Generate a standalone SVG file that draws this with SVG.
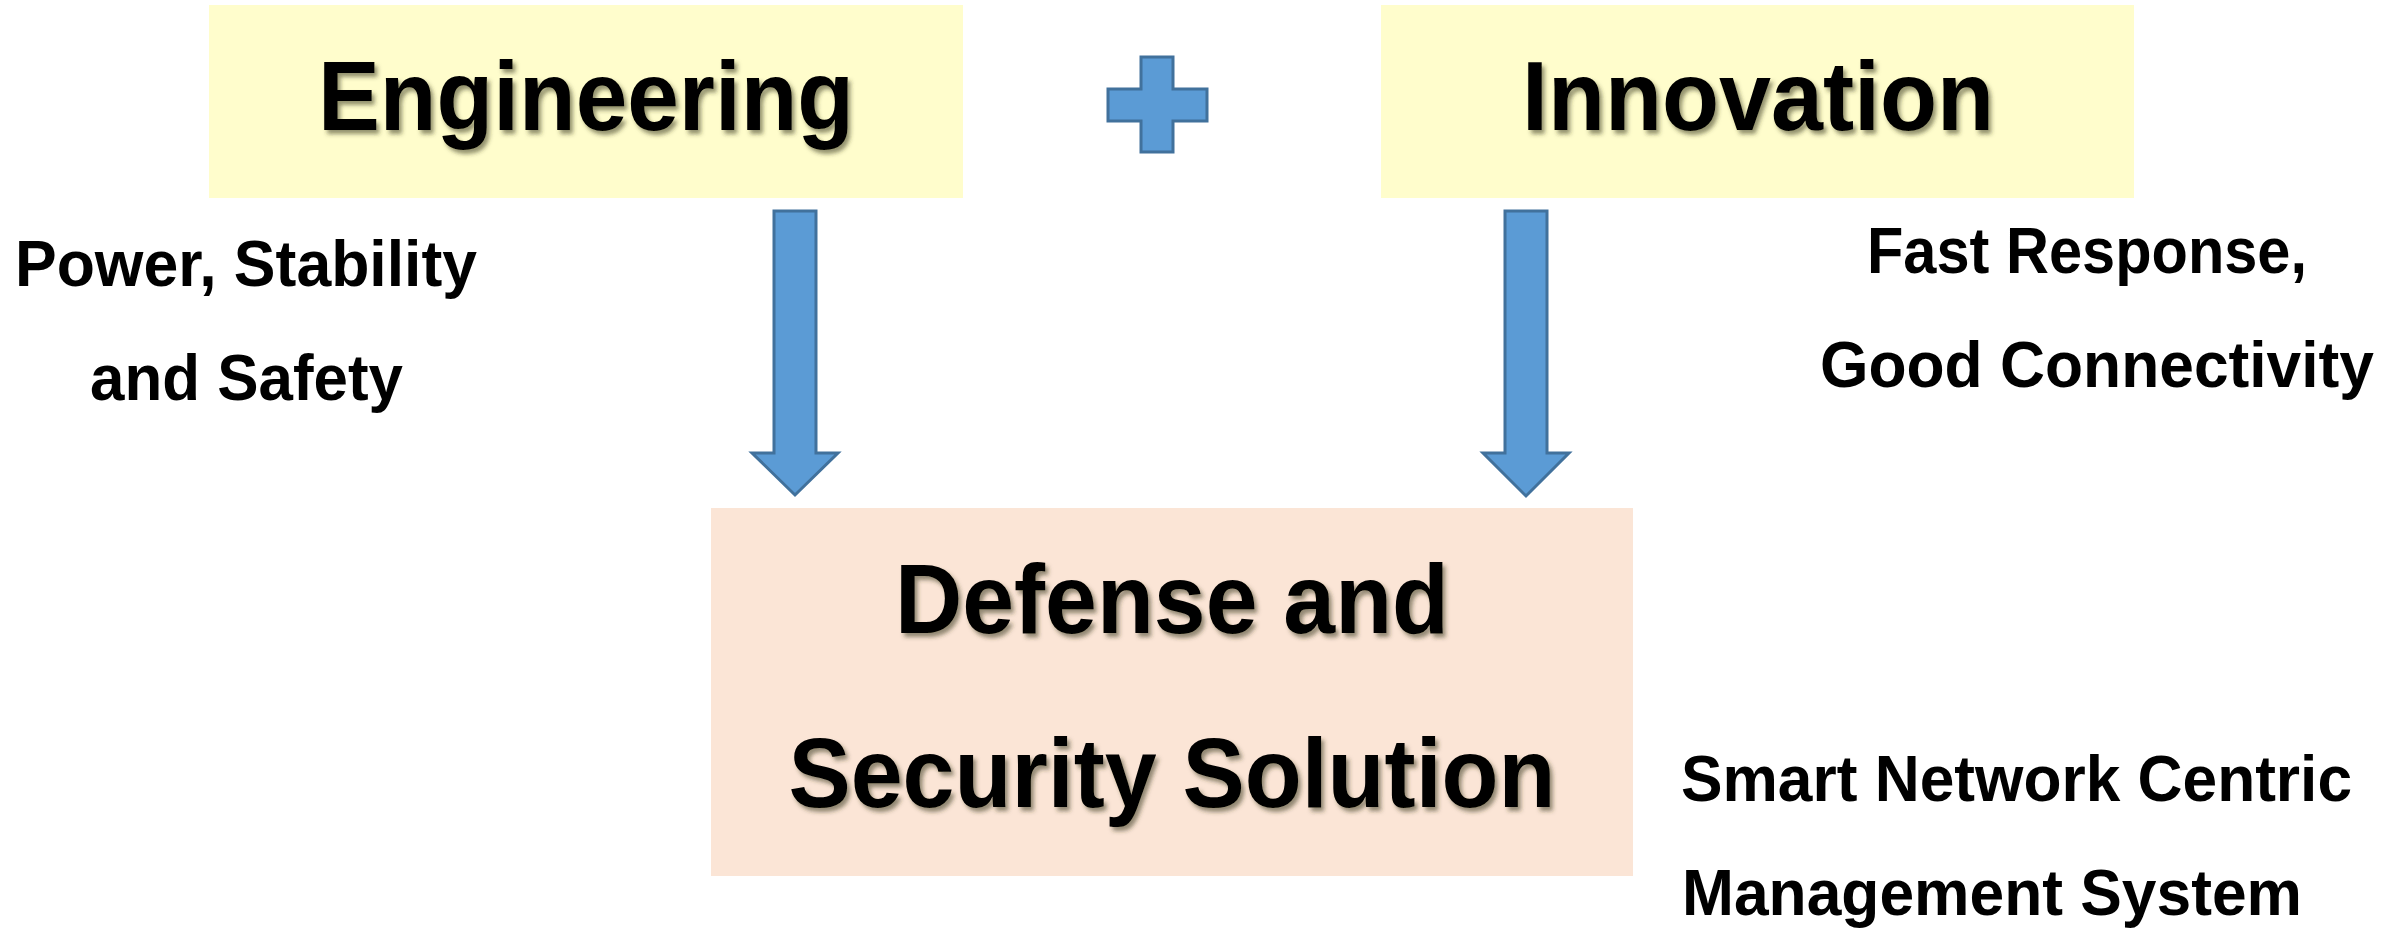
<svg xmlns="http://www.w3.org/2000/svg" width="2392" height="928" viewBox="0 0 2392 928">
  <style>
    .title { font-family: "Liberation Sans", Arial, sans-serif; font-weight: bold; font-size: 98px; fill: #000; }
    .side { font-family: "Liberation Sans", Arial, sans-serif; font-weight: bold; font-size: 64px; fill: #000; }
    .yellow { fill: #FFFDCC; }
    .peach { fill: #FBE5D6; }
    .blue { fill: #5B9BD5; stroke: #41719C; stroke-width: 3; stroke-linejoin: miter; }
  </style>
  <defs>
    <filter id="shadow" x="-10%" y="-20%" width="120%" height="150%">
      <feDropShadow dx="3" dy="4" stdDeviation="2" flood-color="#3a3a20" flood-opacity="0.55"/>
    </filter>
  </defs>
  <rect width="2392" height="928" fill="#FFFFFF"/>

  <g id="engineering">
    <rect class="yellow" x="209" y="5" width="754" height="193"/>
    <text class="title" x="586" y="130" text-anchor="middle" textLength="536" lengthAdjust="spacingAndGlyphs" filter="url(#shadow)">Engineering</text>
  </g>

  <g id="plus">
    <path class="blue" d="M1141,57 H1173 V89 H1207 V121 H1173 V152 H1141 V121 H1108 V89 H1141 Z"/>
  </g>

  <g id="innovation">
    <rect class="yellow" x="1381" y="5" width="753" height="193"/>
    <text class="title" x="1758" y="130" text-anchor="middle" textLength="472" lengthAdjust="spacingAndGlyphs" filter="url(#shadow)">Innovation</text>
  </g>

  <g id="defense">
    <rect class="peach" x="711" y="508" width="922" height="368"/>
    <text class="title" x="1172" y="633" text-anchor="middle" textLength="554" lengthAdjust="spacingAndGlyphs" filter="url(#shadow)">Defense and</text>
    <text class="title" x="1172" y="807" text-anchor="middle" textLength="767" lengthAdjust="spacingAndGlyphs" filter="url(#shadow)">Security Solution</text>
  </g>

  <g id="engineering-label">
    <text class="side" x="15" y="286" textLength="462" lengthAdjust="spacingAndGlyphs">Power, Stability</text>
    <text class="side" x="90" y="400" textLength="313" lengthAdjust="spacingAndGlyphs">and Safety</text>
  </g>

  <g id="innovation-label">
    <text class="side" x="1867" y="273" textLength="440" lengthAdjust="spacingAndGlyphs">Fast Response,</text>
    <text class="side" x="1820" y="387" textLength="554" lengthAdjust="spacingAndGlyphs">Good Connectivity</text>
  </g>

  <g id="defense-label">
    <text class="side" x="1681" y="801" textLength="671" lengthAdjust="spacingAndGlyphs">Smart Network Centric</text>
    <text class="side" x="1682" y="915" textLength="620" lengthAdjust="spacingAndGlyphs">Management System</text>
  </g>

  <g id="connectors">
    <path class="blue" d="M774,211 H816 V453 H838 L795,495 L752,453 H774 Z"/>
    <path class="blue" d="M1505,211 H1547 V453 H1569 L1526,496 L1483,453 H1505 Z"/>
  </g>
</svg>
